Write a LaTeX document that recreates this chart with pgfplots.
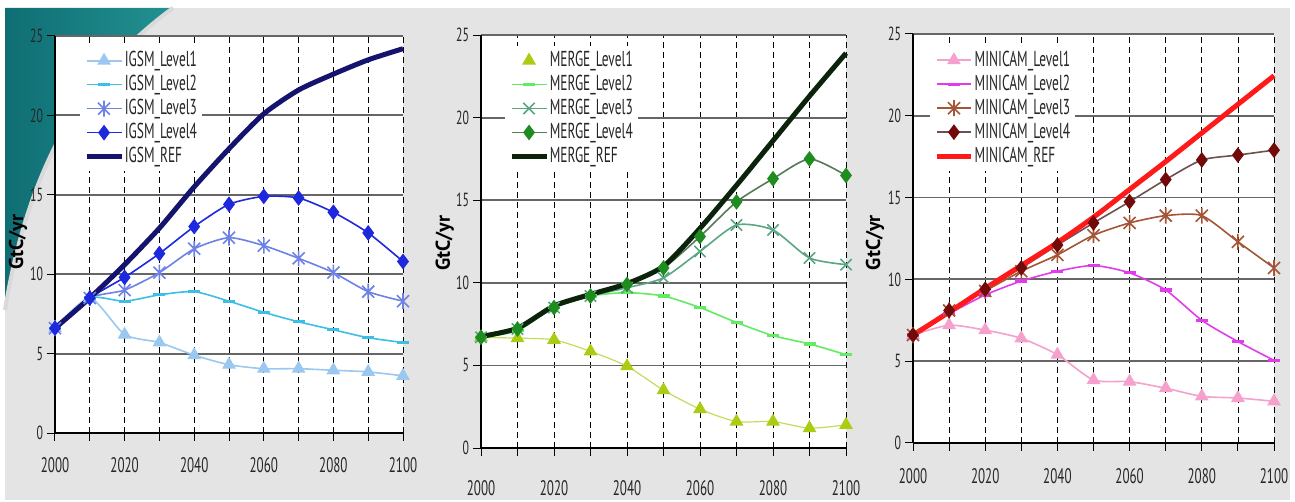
\documentclass[border=0pt]{standalone}
\usepackage{fontspec}
\setmainfont{PT Sans}[FakeStretch=0.62]
\newfontfamily\labelfont{PT Sans}
\usepackage{pgfplots}
\pgfplotsset{compat=1.18}
\usepackage{pgfplotstable}

\definecolor{bg}{RGB}{228,228,228}
\definecolor{tealA}{RGB}{15,110,115}
\definecolor{tealB}{RGB}{35,145,145}
\definecolor{igA}{RGB}{155,200,240}
\definecolor{igB}{RGB}{60,190,230}
\definecolor{igC}{RGB}{110,130,230}
\definecolor{igD}{RGB}{30,40,220}
\definecolor{igR}{RGB}{20,20,110}
\definecolor{mgA}{RGB}{170,205,20}
\definecolor{mgB}{RGB}{100,235,100}
\definecolor{mgC}{RGB}{90,165,130}
\definecolor{mgD}{RGB}{30,140,30}
\definecolor{mgDl}{RGB}{90,120,90}
\definecolor{mgR}{RGB}{10,35,10}
\definecolor{mnA}{RGB}{245,160,205}
\definecolor{mnB}{RGB}{225,60,235}
\definecolor{mnC}{RGB}{165,85,55}
\definecolor{mnD}{RGB}{115,10,10}
\definecolor{mnDl}{RGB}{110,80,80}
\definecolor{mnR}{RGB}{255,25,25}

\pgfdeclareplotmark{xstar}{%
  \pgfpathmoveto{\pgfqpoint{0pt}{\pgfplotmarksize}}%
  \pgfpathlineto{\pgfqpoint{0pt}{-\pgfplotmarksize}}%
  \pgfpathmoveto{\pgfqpoint{-0.75\pgfplotmarksize}{-0.75\pgfplotmarksize}}%
  \pgfpathlineto{\pgfqpoint{0.75\pgfplotmarksize}{0.75\pgfplotmarksize}}%
  \pgfpathmoveto{\pgfqpoint{-0.75\pgfplotmarksize}{0.75\pgfplotmarksize}}%
  \pgfpathlineto{\pgfqpoint{0.75\pgfplotmarksize}{-0.75\pgfplotmarksize}}%
  \pgfusepathqstroke}

% emissions, GtC/yr
\pgfplotstableread{
year L1   L2    L3    L4    REF
2000 6.6  6.6   6.6   6.6   6.6
2010 8.5  8.5   8.5   8.5   8.5
2020 6.2  8.3   9.0   9.8   10.6
2030 5.7  8.7   10.1  11.3  12.9
2040 4.9  8.9   11.6  13.0  15.5
2050 4.3  8.3   12.3  14.4  17.9
2060 4.05 7.6   11.8  14.9  20.1
2070 4.05 7.0   11.0  14.8  21.6
2080 3.95 6.5   10.1  13.9  22.6
2090 3.85 6.0   8.9   12.6  23.5
2100 3.6  5.7   8.3   10.8  24.2
}\igsm

\pgfplotstableread{
year L1   L2    L3    L4    REF
2000 6.7  6.7   6.7   6.7   6.75
2010 6.65 7.1   7.2   7.2   7.25
2020 6.55 8.5   8.5   8.5   8.6
2030 5.85 9.2   9.2   9.2   9.3
2040 4.95 9.4   9.7   9.9   9.95
2050 3.5  9.2   10.3  10.9  11.0
2060 2.35 8.5   11.9  12.8  13.3
2070 1.6  7.6   13.5  14.9  15.9
2080 1.6  6.8   13.2  16.3  18.6
2090 1.2  6.3   11.5  17.5  21.3
2100 1.4  5.65  11.1  16.5  23.9
}\merge

\pgfplotstableread{
year L1   L2    L3    L4    REF
2000 6.6  6.6   6.6   6.6   6.6
2010 7.2  7.9   8.1   8.1   8.0
2020 6.9  9.05  9.3   9.4   9.45
2030 6.4  9.9   10.5  10.7  10.85
2040 5.4  10.5  11.5  12.1  12.25
2050 3.85 10.85 12.7  13.45 13.8
2060 3.75 10.4  13.45 14.75 15.5
2070 3.35 9.35  13.9  16.1  17.2
2080 2.85 7.5   13.9  17.3  18.95
2090 2.75 6.2   12.3  17.6  20.7
2100 2.55 5.05  10.7  17.9  22.45
}\minicam

\pgfplotsset{
  panel/.style={
    scale only axis, clip=false,
    xmin=2000, xmax=2100, ymin=0, ymax=25,
    axis lines=left, axis line style={-, black, line width=0.7pt},
    xtick={2000,2010,...,2100},
    xticklabels={2000,,2020,,2040,,2060,,2080,,2100},
    ytick={0,5,...,25},
    tick align=outside, major tick length=4pt,
    tick style={black, line width=0.5pt},
    xmajorgrids, ymajorgrids,
    x grid style={black, line width=0.4pt, dash pattern=on 3pt off 2pt},
    y grid style={black!60, line width=0.9pt},
    axis background/.style={fill=white},
    /pgf/number format/assume math mode=true,
    yticklabel style={font=\fontsize{9.5}{10}\selectfont, text=black!85, xshift=1.5pt},
    xticklabel style={font=\fontsize{10.5}{12}\selectfont, text=black!85},
    ylabel={\labelfont\bfseries GtC/yr},
    legend cell align=left,
    legend style={draw=none, fill=white, font=\fontsize{10.8}{11}\selectfont,
      text=black!85, nodes={inner sep=0.6pt}, row sep=1.6pt,
      anchor=north west, inner sep=2pt},
    every axis plot/.append style={line width=0.8pt, smooth, tension=0.4},
  },
  reff/.style={line width=2.5pt},
}

\begin{document}
\begin{tikzpicture}
\fill[white] (0,0) rectangle (647.5pt,250pt);
\fill[bg] (2.5pt,0) rectangle (645pt,246pt);
\shade[left color=tealA, right color=tealB] (2.5pt,246pt) -- (86.5pt,246pt) .. controls (40pt,212pt) and (14pt,165pt) .. (2.5pt,95pt) -- cycle;
\draw[white!70!gray, line width=2pt] (86.5pt,246pt) .. controls (40pt,212pt) and (14pt,165pt) .. (2.5pt,95pt);

% IGSM
\begin{axis}[panel, at={(27.5pt,33.5pt)}, anchor=south west,
  width=174pt, height=198.5pt,
  xticklabel style={yshift=-4.5pt},
  ylabel style={at={(axis description cs:-0.106,0.48)}, anchor=center},
  legend style={at={(0.072,0.975)}}]
\addplot[igA, mark=triangle*, mark size=3.2pt] table[x=year,y=L1]{\igsm};
\addplot[igB, mark=-, mark size=3pt, mark options={line width=1.6pt}] table[x=year,y=L2]{\igsm};
\addplot[igC, mark=xstar, mark size=4pt] table[x=year,y=L3]{\igsm};
\addplot[igD, mark=diamond*, mark size=3.3pt] table[x=year,y=L4]{\igsm};
\addplot[igR, reff] table[x=year,y=REF]{\igsm};
\legend{IGSM\_Level1, IGSM\_Level2, IGSM\_Level3, IGSM\_Level4, IGSM\_REF}
\end{axis}

% MERGE
\begin{axis}[panel, at={(240.5pt,26pt)}, anchor=south west,
  width=182.5pt, height=206.5pt,
  xticklabel style={yshift=-8.5pt},
  ylabel style={at={(axis description cs:-0.099,0.496)}, anchor=center},
  legend style={at={(0.066,0.974)}}]
\addplot[mgA!70, line width=0.6pt, forget plot] table[x=year,y=L1]{\merge};
\addplot[mgA, only marks, mark=triangle*, mark size=3.2pt] table[x=year,y=L1]{\merge};
\addplot[mgB, mark=-, mark size=3pt, mark options={line width=1.6pt}] table[x=year,y=L2]{\merge};
\addplot[mgC, mark=x, mark size=4pt] table[x=year,y=L3]{\merge};
\addplot[mgDl, mark=diamond*, mark size=3.3pt, mark options={mgD, fill=mgD}] table[x=year,y=L4]{\merge};
\addplot[mgR, reff] table[x=year,y=REF]{\merge};
\legend{MERGE\_Level1, MERGE\_Level2, MERGE\_Level3, MERGE\_Level4, MERGE\_REF}
\end{axis}

% MINICAM
\begin{axis}[panel, at={(456.5pt,28.5pt)}, anchor=south west,
  width=180.5pt, height=204.5pt,
  xticklabel style={yshift=-5pt},
  ylabel style={at={(axis description cs:-0.105,0.49)}, anchor=center},
  legend style={at={(0.047,0.972)}}]
\addplot[mnA, mark=triangle*, mark size=3.2pt] table[x=year,y=L1]{\minicam};
\addplot[mnB, mark=-, mark size=3pt, mark options={line width=1.6pt}] table[x=year,y=L2]{\minicam};
\addplot[mnC, mark=xstar, mark size=4pt] table[x=year,y=L3]{\minicam};
\addplot[mnDl, mark=diamond*, mark size=3.3pt, mark options={mnD, fill=mnD}] table[x=year,y=L4]{\minicam};
\addplot[mnR, reff] table[x=year,y=REF]{\minicam};
\legend{MINICAM\_Level1, MINICAM\_Level2, MINICAM\_Level3, MINICAM\_Level4, MINICAM\_REF}
\end{axis}
\end{tikzpicture}
\end{document}
